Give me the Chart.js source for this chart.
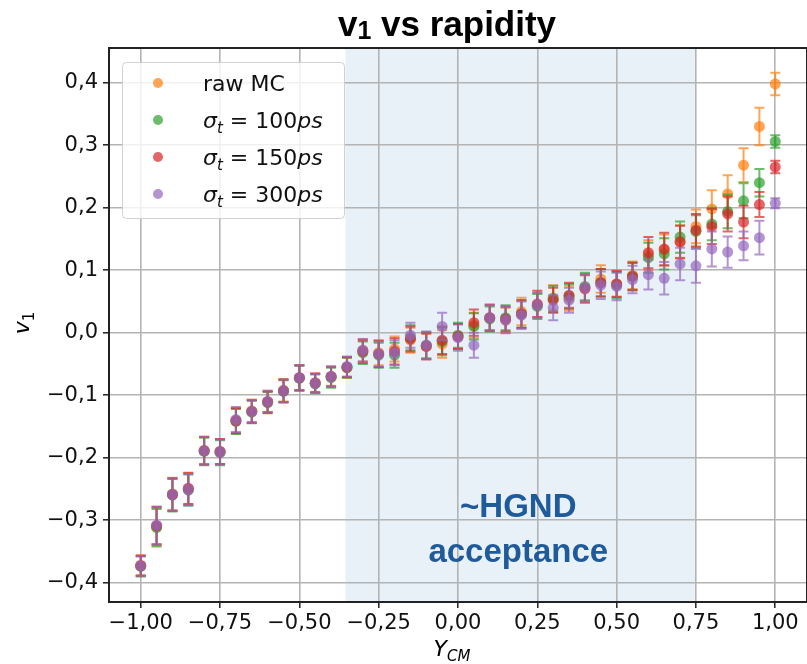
<!DOCTYPE html>
<html>
<head>
<meta charset="utf-8">
<script src="https://cdn.jsdelivr.net/npm/chart.js@4.4.0/dist/chart.umd.min.js"></script>
<style>
  html, body { margin: 0; padding: 0; background: #fff; }
  canvas { display: block; }
</style>
</head>
<body>
<canvas id="chart" width="807" height="664"></canvas>
<script>
// rapidity bins (Y_CM)
const rapidity = [-1.00, -0.95, -0.90, -0.85, -0.80, -0.75, -0.70, -0.65, -0.60, -0.55,
  -0.50, -0.45, -0.40, -0.35, -0.30, -0.25, -0.20, -0.15, -0.10, -0.05,
  0.00, 0.05, 0.10, 0.15, 0.20, 0.25, 0.30, 0.35, 0.40, 0.45,
  0.50, 0.55, 0.60, 0.65, 0.70, 0.75, 0.80, 0.85, 0.90, 0.95, 1.00];

// v1 values per series
const rawMC = [-0.372, -0.310, -0.258, -0.250, -0.188, -0.190, -0.140, -0.125, -0.110, -0.092,
  -0.072, -0.081, -0.070, -0.056, -0.028, -0.032, -0.026, -0.012, -0.022, -0.018,
  -0.006, 0.012, 0.024, 0.020, 0.034, 0.044, 0.056, 0.055, 0.072, 0.086,
  0.078, 0.092, 0.124, 0.132, 0.146, 0.170, 0.198, 0.222, 0.268, 0.330, 0.398];
const sigma100 = [-0.374, -0.312, -0.260, -0.252, -0.190, -0.192, -0.142, -0.127, -0.112, -0.094,
  -0.073, -0.082, -0.072, -0.056, -0.032, -0.036, -0.036, -0.008, -0.020, -0.014,
  -0.004, 0.010, 0.022, 0.024, 0.030, 0.042, 0.054, 0.058, 0.074, 0.080,
  0.076, 0.090, 0.120, 0.126, 0.153, 0.162, 0.174, 0.194, 0.211, 0.240, 0.306];
const sigma150 = [-0.373, -0.309, -0.259, -0.249, -0.189, -0.190, -0.141, -0.126, -0.111, -0.093,
  -0.072, -0.080, -0.070, -0.055, -0.030, -0.034, -0.030, -0.010, -0.022, -0.012,
  -0.006, 0.016, 0.024, 0.022, 0.030, 0.046, 0.052, 0.060, 0.070, 0.080,
  0.078, 0.090, 0.128, 0.134, 0.145, 0.164, 0.170, 0.190, 0.177, 0.205, 0.265];
const sigma300 = [-0.373, -0.308, -0.259, -0.251, -0.189, -0.191, -0.139, -0.126, -0.110, -0.093,
  -0.072, -0.081, -0.070, -0.054, -0.028, -0.034, -0.032, -0.004, -0.020, 0.010,
  -0.008, -0.020, 0.024, 0.020, 0.028, 0.044, 0.040, 0.052, 0.072, 0.076,
  0.074, 0.085, 0.093, 0.087, 0.110, 0.107, 0.134, 0.129, 0.139, 0.152, 0.207];

// symmetric errors per series
const rawMCErr = [0.016, 0.030, 0.026, 0.025, 0.022, 0.020, 0.020, 0.018, 0.017, 0.018,
  0.020, 0.015, 0.015, 0.016, 0.018, 0.020, 0.020, 0.020, 0.020, 0.022,
  0.020, 0.020, 0.020, 0.020, 0.022, 0.020, 0.020, 0.020, 0.022, 0.022,
  0.020, 0.022, 0.024, 0.025, 0.026, 0.027, 0.030, 0.030, 0.027, 0.030, 0.018];
const sigma100Err = [0.016, 0.030, 0.026, 0.025, 0.022, 0.020, 0.020, 0.018, 0.017, 0.018,
  0.020, 0.015, 0.016, 0.016, 0.018, 0.020, 0.020, 0.020, 0.021, 0.022,
  0.020, 0.021, 0.020, 0.020, 0.022, 0.020, 0.021, 0.020, 0.022, 0.022,
  0.021, 0.022, 0.024, 0.025, 0.025, 0.026, 0.026, 0.027, 0.028, 0.022, 0.010];
const sigma150Err = [0.016, 0.030, 0.026, 0.025, 0.022, 0.020, 0.020, 0.018, 0.017, 0.018,
  0.020, 0.015, 0.016, 0.016, 0.018, 0.021, 0.021, 0.020, 0.021, 0.022,
  0.020, 0.021, 0.021, 0.020, 0.022, 0.021, 0.020, 0.020, 0.022, 0.022,
  0.021, 0.022, 0.025, 0.026, 0.026, 0.026, 0.028, 0.028, 0.026, 0.020, 0.010];
const sigma300Err = [0.016, 0.030, 0.026, 0.025, 0.022, 0.020, 0.020, 0.018, 0.017, 0.018,
  0.020, 0.015, 0.016, 0.016, 0.018, 0.020, 0.020, 0.020, 0.022, 0.022,
  0.021, 0.020, 0.020, 0.021, 0.022, 0.020, 0.020, 0.020, 0.022, 0.022,
  0.022, 0.022, 0.024, 0.026, 0.026, 0.027, 0.028, 0.025, 0.023, 0.027, 0.008];

const xTicks = [-1.00, -0.75, -0.50, -0.25, 0.00, 0.25, 0.50, 0.75, 1.00];
const yTicks = [-0.4, -0.3, -0.2, -0.1, 0.0, 0.1, 0.2, 0.3, 0.4];

// acceptance band
const acceptance = [-0.355, 0.75];

const FONT = "'DejaVu Sans', sans-serif";

function fmt(v, d) {
  if (Math.abs(v) < 1e-9) v = 0;
  return v.toFixed(d).replace('.', ',').replace('-', '\u2212');
}

function pts(ys) {
  return rapidity.map((x, i) => ({ x: x, y: ys[i] }));
}

const series = [
  { name: 'raw MC', sub: null, data: rawMC, err: rawMCErr, color: '255,127,14', order: 3 },
  { name: '100', sub: true, data: sigma100, err: sigma100Err, color: '44,160,44', order: 2 },
  { name: '150', sub: true, data: sigma150, err: sigma150Err, color: '214,39,40', order: 1 },
  { name: '300', sub: true, data: sigma300, err: sigma300Err, color: '148,103,189', order: 0 }
];

// draw a list of text runs: {t, it, sub}
function drawRuns(ctx, runs, x, y, base, weight, subDrop) {
  let cx = x;
  const drop = subDrop === undefined ? 0.22 : subDrop;
  runs.forEach(r => {
    const size = r.sub ? Math.round(base * 0.7) : base;
    ctx.font = (r.it ? 'italic ' : '') + (weight || '') + ' ' + size + 'px ' + (r.family || FONT);
    ctx.fillText(r.t, cx, y + (r.sub ? base * drop : 0));
    cx += ctx.measureText(r.t).width;
  });
  return cx - x;
}
function runsWidth(ctx, runs, base, weight) {
  let w = 0;
  runs.forEach(r => {
    const size = r.sub ? Math.round(base * 0.7) : base;
    ctx.font = (r.it ? 'italic ' : '') + (weight || '') + ' ' + size + 'px ' + (r.family || FONT);
    w += ctx.measureText(r.t).width;
  });
  return w;
}

const decorPlugin = {
  id: 'decor',
  beforeDraw(chart) {
    const { ctx, chartArea: a, scales: { x } } = chart;
    ctx.save();
    ctx.fillStyle = '#fff';
    ctx.fillRect(0, 0, chart.width, chart.height);
    const x0 = x.getPixelForValue(acceptance[0]);
    const x1 = x.getPixelForValue(acceptance[1]);
    ctx.fillStyle = 'rgba(31,119,180,0.1)';
    ctx.fillRect(x0, a.top, x1 - x0, a.bottom - a.top);
    ctx.restore();
  },
  beforeDatasetsDraw(chart) {
    const { ctx, chartArea: a, scales: { x, y } } = chart;
    ctx.save();
    // top and right spines
    ctx.strokeStyle = '#222';
    ctx.lineWidth = 2;
    ctx.beginPath();
    ctx.moveTo(a.left, a.top);
    ctx.lineTo(a.right, a.top);
    ctx.lineTo(a.right, a.bottom);
    ctx.stroke();
    // acceptance annotation
    ctx.fillStyle = '#1f5a9b';
    ctx.font = "bold 33px 'Liberation Sans', Arial, sans-serif";
    ctx.textAlign = 'center';
    ctx.textBaseline = 'alphabetic';
    const cx = x.getPixelForValue(0.19);
    ctx.fillText('~HGND', cx, y.getPixelForValue(-0.295));
    ctx.fillText('acceptance', cx, y.getPixelForValue(-0.367));
    ctx.restore();
  },
  beforeDatasetDraw(chart, args) {
    const s = series[args.index];
    const { ctx, scales: { y } } = chart;
    const meta = args.meta;
    ctx.save();
    ctx.strokeStyle = 'rgba(' + s.color + ',0.7)';
    ctx.lineWidth = 2;
    meta.data.forEach((p, i) => {
      const yt = y.getPixelForValue(s.data[i] + s.err[i]);
      const yb = y.getPixelForValue(s.data[i] - s.err[i]);
      ctx.beginPath();
      ctx.moveTo(p.x, yt); ctx.lineTo(p.x, yb);
      ctx.moveTo(p.x - 5, yt); ctx.lineTo(p.x + 5, yt);
      ctx.moveTo(p.x - 5, yb); ctx.lineTo(p.x + 5, yb);
      ctx.stroke();
    });
    ctx.restore();
  },
  afterDatasetsDraw(chart) {
    const { ctx, chartArea: a } = chart;
    ctx.save();
    // legend box
    const bx = a.left + 13, by = a.top + 14, bw = 222, bh = 156;
    ctx.fillStyle = 'rgba(255,255,255,0.8)';
    ctx.strokeStyle = 'rgba(204,204,204,0.9)';
    ctx.lineWidth = 1;
    ctx.beginPath();
    ctx.roundRect(bx + 0.5, by + 0.5, bw, bh, 4);
    ctx.fill();
    ctx.stroke();
    ctx.textBaseline = 'alphabetic';
    ctx.textAlign = 'left';
    series.forEach((s, i) => {
      const cy = by + 21 + i * 37;
      ctx.fillStyle = 'rgba(' + s.color + ',0.7)';
      ctx.beginPath();
      ctx.arc(bx + 36, cy, 5, 0, Math.PI * 2);
      ctx.fill();
      ctx.fillStyle = '#111';
      const runs = s.sub
        ? [{ t: '\u03c3', it: 1 }, { t: 't', it: 1, sub: 1 }, { t: ' = ' }, { t: s.name }, { t: 'ps', it: 1 }]
        : [{ t: s.name }];
      drawRuns(ctx, runs, bx + 81, cy + 8, 22);
    });
    ctx.restore();
  },
  afterDraw(chart) {
    const { ctx, chartArea: a } = chart;
    ctx.save();
    ctx.fillStyle = '#000';
    ctx.textBaseline = 'alphabetic';
    ctx.textAlign = 'left';
    // title
    const tf = "'Liberation Sans', Arial, sans-serif";
    const title = [{ t: 'v', family: tf }, { t: '1', sub: 1, family: tf }, { t: ' vs rapidity', family: tf }];
    const tw = runsWidth(ctx, title, 35, 'bold');
    drawRuns(ctx, title, 447 - tw / 2, 36, 35, 'bold', 0.08);
    // x label
    const xl = [{ t: 'Y', it: 1 }, { t: 'CM', it: 1, sub: 1 }];
    const xw = runsWidth(ctx, xl, 22);
    drawRuns(ctx, xl, (a.left + a.right) / 2 - xw / 2 - 6, 656, 22);
    // y label
    const yl = [{ t: 'v', it: 1 }, { t: '1', sub: 1 }];
    const yw = runsWidth(ctx, yl, 22);
    ctx.translate(29, (a.top + a.bottom) / 2 - 2);
    ctx.rotate(-Math.PI / 2);
    drawRuns(ctx, yl, -yw / 2, 0, 22);
    ctx.restore();
  }
};

const datasets = series.map(s => ({
  label: s.name,
  data: pts(s.data),
  order: s.order,
  backgroundColor: 'rgba(' + s.color + ',0.7)',
  borderColor: 'rgba(' + s.color + ',0.7)',
  borderWidth: 0,
  pointRadius: 5.5,
  pointHoverRadius: 5.5,
  showLine: false
}));

const axisGrid = {
  color: '#b4b4b4',
  lineWidth: 1.6,
  tickLength: 6,
  tickColor: '#222',
  tickWidth: 1.5
};

new Chart(document.getElementById('chart'), {
  type: 'scatter',
  data: { datasets },
  plugins: [decorPlugin],
  options: {
    responsive: false,
    devicePixelRatio: 1,
    animation: false,
    events: [],
    layout: { autoPadding: false, padding: { top: 48, left: 0, right: 0, bottom: 0 } },
    plugins: { legend: { display: false }, tooltip: { enabled: false }, title: { display: false } },
    scales: {
      x: {
        type: 'linear',
        min: -1.1,
        max: 1.1,
        afterBuildTicks: s => { s.ticks = xTicks.map(v => ({ value: v })); },
        afterFit: s => { s.height = 62; s.paddingLeft = 0; s.paddingRight = 0; },
        ticks: {
          color: '#111',
          font: { family: FONT, size: 21 },
          padding: 3,
          maxRotation: 0,
          autoSkip: false,
          callback: v => fmt(v, 2)
        },
        grid: axisGrid,
        border: { color: '#222', width: 2 }
      },
      y: {
        type: 'linear',
        min: -0.431,
        max: 0.4555,
        afterBuildTicks: s => { s.ticks = yTicks.map(v => ({ value: v })); },
        afterFit: s => { s.width = 109; s.paddingTop = 0; s.paddingBottom = 0; },
        ticks: {
          color: '#111',
          font: { family: FONT, size: 21 },
          padding: 5,
          autoSkip: false,
          callback: v => fmt(v, 1)
        },
        grid: axisGrid,
        border: { color: '#222', width: 2 }
      }
    }
  }
});
</script>
</body>
</html>
